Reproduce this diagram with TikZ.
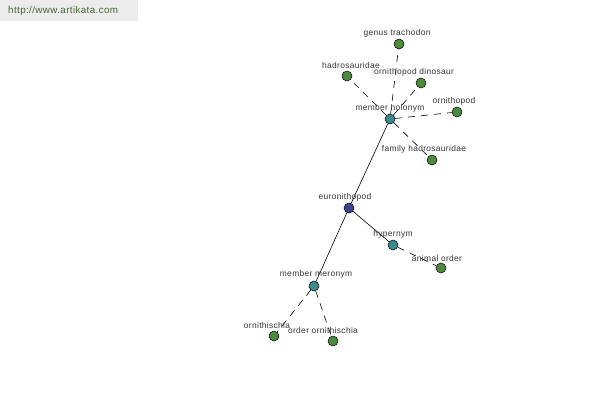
\documentclass[tikz,border=0pt]{standalone}
\usepackage{fontspec}
\setmainfont{Liberation Sans}[LetterSpace=4]
\definecolor{gn}{RGB}{78,138,62}
\definecolor{tl}{RGB}{58,140,140}
\definecolor{bl}{RGB}{60,68,140}
\definecolor{hdr}{RGB}{236,236,236}
\definecolor{hdrtxt}{RGB}{70,100,50}
\begin{document}
\begin{tikzpicture}[x=1pt,y=-1pt,
  dot/.style={circle,draw=black,line width=0.5pt,minimum size=10pt,inner sep=0pt},
  gdot/.style={dot,fill=gn},
  tdot/.style={dot,fill=tl},
  bdot/.style={dot,fill=bl},
  lbl/.style={font=\fontsize{8.4}{9}\selectfont,text=black!80,inner sep=0pt},
  sl/.style={draw=black,line width=0.6pt},
  dl/.style={draw=black,line width=0.6pt,dash pattern=on 7pt off 6pt}]
\useasboundingbox (0,0) rectangle (600,400);
\fill[white] (0,0) rectangle (600,400);
\fill[hdr] (0,0) rectangle (138,21);
\node[anchor=west,font=\fontsize{9.8}{11}\selectfont,text=hdrtxt,inner sep=0pt] (url) at (8,11) {http://www.artikata.com};
% nodes
\node[tdot] (mh) at (390,119) {};
\node[gdot] (gt) at (399,44) {};
\node[gdot] (hd) at (347,76) {};
\node[gdot] (od) at (421,83) {};
\node[gdot] (op) at (457,112) {};
\node[gdot] (fh) at (432,160) {};
\node[bdot] (eu) at (349,208) {};
\node[tdot] (hy) at (393,245) {};
\node[gdot] (ao) at (441,268) {};
\node[tdot] (mm) at (314,286) {};
\node[gdot] (oc) at (274,336) {};
\node[gdot] (oo) at (333,341) {};
% edges
\path[sl] (eu) -- (mh);
\path[sl] (eu) -- (mm);
\path[sl] (eu) -- (hy);
\path[dl] (mh) -- (gt);
\path[dl] (mh) -- (hd);
\path[dl] (mh) -- (od);
\path[dl] (mh) -- (op);
\path[dl] (mh) -- (fh);
\path[dl] (hy) -- (ao);
\path[dl] (mm) -- (oc);
\path[dl] (mm) -- (oo);
% labels
\node[lbl] (lmh) at (390,108) {member holonym};
\node[lbl] (lgt) at (397,33) {genus trachodon};
\node[lbl] (lhd) at (351,65) {hadrosauridae};
\node[lbl] (lod) at (414,72) {ornithopod dinosaur};
\node[lbl] (lop) at (454,101) {ornithopod};
\node[lbl] (lfh) at (424,149) {family hadrosauridae};
\node[lbl] (leu) at (345,197) {euronithopod};
\node[lbl] (lhy) at (393,234) {hypernym};
\node[lbl] (lao) at (437,258) {animal order};
\node[lbl] (lmm) at (316,274) {member meronym};
\node[lbl] (loc) at (267,325) {ornithischia};
\node[lbl] (loo) at (323,330) {order ornithischia};
\end{tikzpicture}
\end{document}
